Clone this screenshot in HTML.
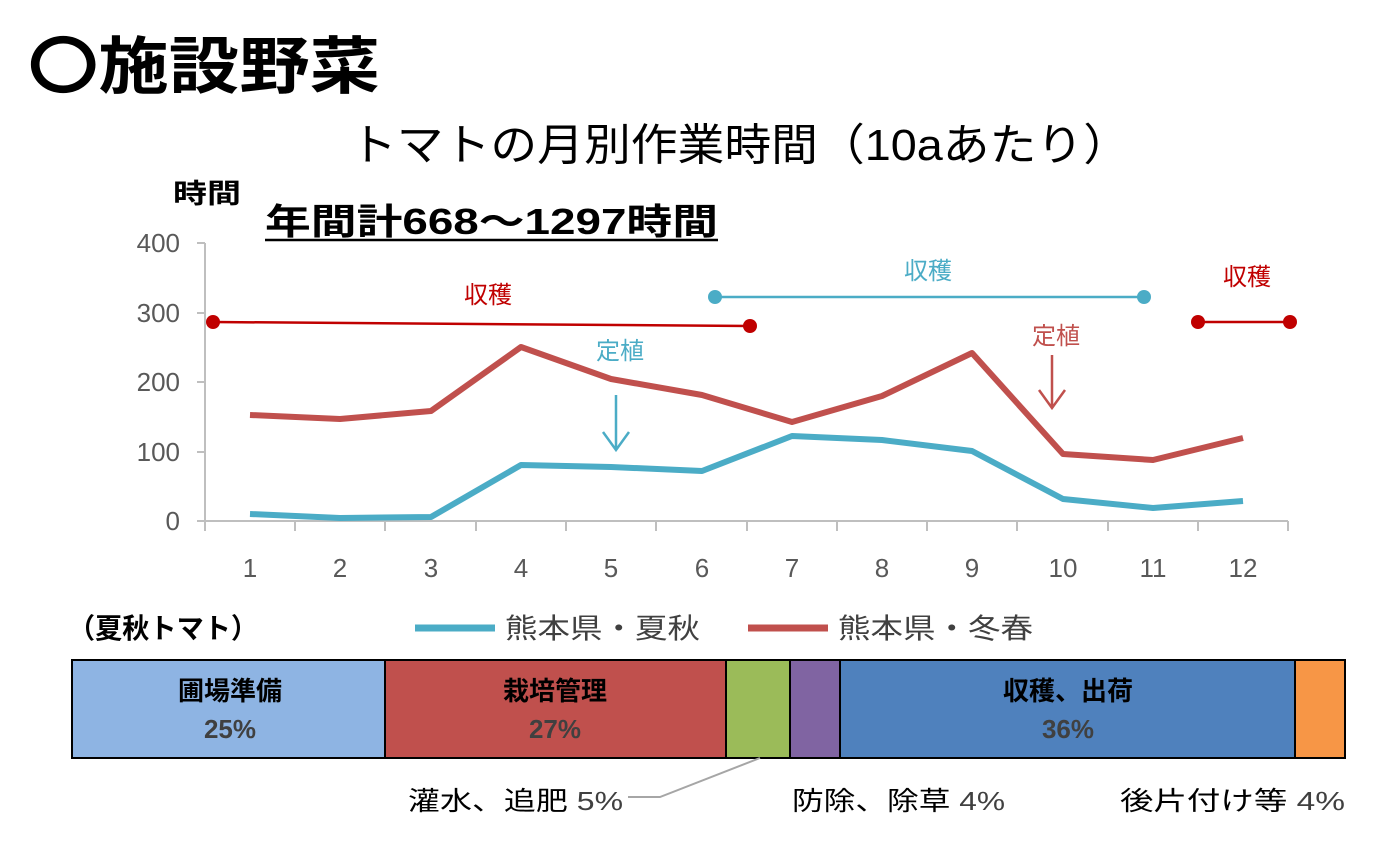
<!DOCTYPE html>
<html><head><meta charset="utf-8">
<style>
html,body{margin:0;padding:0;background:#fff;}
body{width:1380px;height:850px;overflow:hidden;position:relative;font-family:"Liberation Sans","Noto Sans CJK JP",sans-serif;}
svg{position:absolute;left:0;top:0;}
</style></head><body>
<svg width="1380" height="850" viewBox="0 0 1380 850" font-family="Liberation Sans, Noto Sans CJK JP, sans-serif">
<text x="28" y="88" font-size="62" font-weight="bold" fill="#000" textLength="352" lengthAdjust="spacingAndGlyphs">〇施設野菜</text>
<text x="350" y="160" font-size="44" fill="#000" textLength="780" lengthAdjust="spacingAndGlyphs">トマトの月別作業時間（10aあたり）</text>
<text x="173" y="203" font-size="27" font-weight="bold" fill="#000" textLength="68" lengthAdjust="spacingAndGlyphs">時間</text>
<text x="265" y="234" font-size="36" font-weight="bold" fill="#000" textLength="453" lengthAdjust="spacingAndGlyphs">年間計668～1297時間</text>
<line x1="265" y1="240" x2="718" y2="240" stroke="#000" stroke-width="2.5"/>
<g stroke="#bfbfbf" stroke-width="2" fill="none">
<line x1="205" y1="243" x2="205" y2="521"/>
<line x1="205" y1="521" x2="1288" y2="521"/>
<line x1="197" y1="243" x2="205" y2="243"/>
<line x1="197" y1="313" x2="205" y2="313"/>
<line x1="197" y1="382" x2="205" y2="382"/>
<line x1="197" y1="452" x2="205" y2="452"/>
<line x1="197" y1="521" x2="205" y2="521"/>
<path d="M205 521v10M295 521v10M385 521v10M476 521v10M566 521v10M656 521v10M747 521v10M837 521v10M927 521v10M1017 521v10M1108 521v10M1198 521v10M1288 521v10"/>
</g>
<g font-size="26" fill="#595959" text-anchor="end">
<text x="180" y="252">400</text><text x="180" y="322">300</text><text x="180" y="391">200</text><text x="180" y="461">100</text><text x="180" y="530">0</text>
</g>
<g font-size="26" fill="#595959" text-anchor="middle">
<text x="250" y="577">1</text><text x="340" y="577">2</text><text x="431" y="577">3</text><text x="521" y="577">4</text><text x="611" y="577">5</text><text x="702" y="577">6</text><text x="792" y="577">7</text><text x="882" y="577">8</text><text x="972" y="577">9</text><text x="1063" y="577">10</text><text x="1153" y="577">11</text><text x="1243" y="577">12</text>
</g>
<polyline fill="none" stroke="#4BACC6" stroke-width="6" stroke-linejoin="round" points="250,514 340,518 431,517 521,465 611,467 702,471 792,436 882,440 972,451 1063,499 1153,508 1243,501"/>
<polyline fill="none" stroke="#C0504D" stroke-width="6" stroke-linejoin="round" points="250,415 340,419 431,411 521,347 611,379 702,395 792,422 882,396 972,353 1063,454 1153,460 1243,438"/>
<line x1="213" y1="322" x2="750" y2="326" stroke="#C00000" stroke-width="2.5"/>
<circle cx="213" cy="322" r="7" fill="#C00000"/><circle cx="750" cy="326" r="7" fill="#C00000"/>
<text x="488" y="303" font-size="24" fill="#C00000" text-anchor="middle">収穫</text>
<line x1="715" y1="297" x2="1144" y2="297" stroke="#4BACC6" stroke-width="2.5"/>
<circle cx="715" cy="297" r="7" fill="#4BACC6"/><circle cx="1144" cy="297" r="7" fill="#4BACC6"/>
<text x="928" y="279" font-size="24" fill="#4BACC6" text-anchor="middle">収穫</text>
<line x1="1198" y1="322" x2="1290" y2="322" stroke="#C00000" stroke-width="2.5"/>
<circle cx="1198" cy="322" r="7" fill="#C00000"/><circle cx="1290" cy="322" r="7" fill="#C00000"/>
<text x="1247" y="285" font-size="24" fill="#C00000" text-anchor="middle">収穫</text>
<text x="620" y="359" font-size="24" fill="#4BACC6" text-anchor="middle">定植</text>
<path d="M616 395V450M603 432L616 450L629 432" stroke="#4BACC6" stroke-width="2.5" fill="none"/>
<text x="1056" y="344" font-size="24" fill="#C0504D" text-anchor="middle">定植</text>
<path d="M1052 355V408M1039 390L1052 408L1065 390" stroke="#C0504D" stroke-width="2.5" fill="none"/>
<text x="68" y="638" font-size="28" font-weight="bold" fill="#000" textLength="190" lengthAdjust="spacingAndGlyphs">（夏秋トマト）</text>
<line x1="415" y1="628" x2="495" y2="628" stroke="#4BACC6" stroke-width="7"/>
<text x="505" y="638" font-size="28" fill="#404040" textLength="195" lengthAdjust="spacingAndGlyphs">熊本県・夏秋</text>
<line x1="748" y1="628" x2="828" y2="628" stroke="#C0504D" stroke-width="7"/>
<text x="838" y="638" font-size="28" fill="#404040" textLength="195" lengthAdjust="spacingAndGlyphs">熊本県・冬春</text>
<g stroke="#000" stroke-width="2">
<rect x="72" y="660" width="313" height="98" fill="#8EB4E3"/>
<rect x="385" y="660" width="341" height="98" fill="#C0504D"/>
<rect x="726" y="660" width="64" height="98" fill="#9BBB59"/>
<rect x="790" y="660" width="50" height="98" fill="#8064A2"/>
<rect x="840" y="660" width="455" height="98" fill="#4F81BD"/>
<rect x="1295" y="660" width="50" height="98" fill="#F79646"/>
</g>
<g font-size="26" font-weight="bold" text-anchor="middle">
<text x="230" y="700" fill="#000">圃場準備</text><text x="230" y="738" fill="#404040">25%</text>
<text x="555" y="700" fill="#000">栽培管理</text><text x="555" y="738" fill="#404040">27%</text>
<text x="1068" y="700" fill="#000">収穫、出荷</text><text x="1068" y="738" fill="#404040">36%</text>
</g>
<polyline points="628,797 660,797 760,758" fill="none" stroke="#a6a6a6" stroke-width="2"/>
<g font-size="26" fill="#000">
<text x="408" y="810" textLength="215" lengthAdjust="spacingAndGlyphs">灌水、追肥 <tspan fill="#404040">5%</tspan></text>
<text x="792" y="810" textLength="213" lengthAdjust="spacingAndGlyphs">防除、除草 <tspan fill="#404040">4%</tspan></text>
<text x="1120" y="810" textLength="225" lengthAdjust="spacingAndGlyphs">後片付け等 <tspan fill="#404040">4%</tspan></text>
</g>
</svg>
</body></html>
